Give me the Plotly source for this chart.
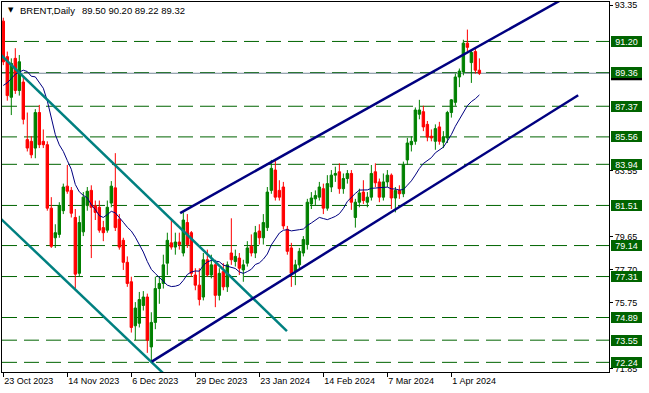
import plotly.graph_objects as go

# ---------------- data ----------------
tick_idx = [0, 16, 32, 48, 64, 80, 96, 112]
tick_text = ["23 Oct 2023", "14 Nov 2023", "6 Dec 2023", "29 Dec 2023",
             "23 Jan 2024", "14 Feb 2024", "7 Mar 2024", "1 Apr 2024"]

opens = [92.4, 90.3, 87.9, 90.2, 88.3, 88.8, 85.4, 85.3, 84.9, 87.0,
         85.3, 85.1, 81.35, 79.6, 79.8, 81.2, 82.65, 82.4, 80.8, 77.5,
         79.95, 81.5, 82.4, 81.5, 81.4, 80.2, 80.05, 81.65, 82.55, 80.7,
         79.45, 78.15, 77.0, 74.4, 74.55, 75.6, 76.1, 73.15, 74.6, 76.6,
         76.9, 78.1, 79.3, 79.05, 79.35, 78.7, 80.5, 79.9, 77.4, 76.8,
         76.1, 78.3, 77.4, 78.0, 76.2, 77.6, 76.7, 78.7, 78.2, 78.4,
         77.7, 78.1, 79.1, 78.7, 80.0, 79.6, 80.2, 82.4, 83.6, 82.4,
         82.6, 80.1, 79.0, 77.6, 78.0, 78.7, 79.2, 81.6, 81.9, 82.0,
         82.5, 81.35, 82.6, 83.3, 83.5, 82.5, 83.1, 83.4, 80.8, 81.7,
         82.3, 81.7, 82.0, 83.5, 82.9, 82.0, 82.9, 83.3, 81.95, 82.4,
         82.2, 84.2, 85.1, 85.3, 86.9, 87.05, 86.3, 85.6, 85.3, 86.15,
         85.25, 85.5, 87.0, 87.6, 89.1, 89.4, 91.1, 89.95, 90.6, 89.50]
highs = [92.6, 90.6, 90.2, 90.8, 90.4, 89.1, 87.0, 85.6, 87.2, 87.45,
         86.0, 85.3, 82.0, 80.4, 81.7, 82.8, 83.9, 82.6, 81.3, 80.9,
         82.3, 82.6, 82.7, 81.8, 81.8, 80.6, 81.8, 82.95, 84.6, 81.0,
         79.6, 78.5, 77.3, 75.8, 76.4, 76.45, 76.3, 75.2, 77.3, 77.3,
         78.6, 79.9, 80.65, 79.9, 79.9, 81.1, 81.0, 80.0, 77.8, 77.8,
         78.7, 78.9, 78.6, 78.3, 77.8, 78.1, 78.2, 80.75, 78.9, 78.7,
         78.3, 79.4, 79.8, 80.3, 80.4, 81.0, 82.6, 84.2, 84.2, 83.0,
         82.9, 80.3, 79.3, 78.3, 79.0, 79.7, 81.9, 82.3, 82.4, 82.9,
         82.8, 83.3, 83.6, 83.8, 84.0, 83.4, 83.6, 83.6, 81.9, 82.5,
         83.0, 82.3, 83.9, 84.0, 83.1, 83.4, 83.6, 83.4, 82.6, 82.7,
         84.1, 85.5, 85.6, 87.3, 87.75, 87.4, 86.5, 86.0, 86.3, 86.45,
         85.9, 87.1, 87.8, 89.3, 89.6, 91.3, 91.9, 90.7, 90.8, 90.20]
lows = [89.8, 87.7, 86.85, 88.1, 88.0, 86.3, 84.7, 84.3, 84.3, 84.9,
        84.9, 81.2, 79.0, 79.0, 79.6, 81.0, 82.2, 80.8, 76.6, 77.3,
        79.7, 81.2, 78.4, 80.65, 79.9, 79.4, 79.9, 81.4, 80.0, 78.9,
        77.7, 76.7, 74.0, 73.55, 74.3, 75.3, 72.8, 72.3, 74.2, 75.7,
        76.6, 77.4, 78.9, 78.6, 78.9, 78.5, 79.0, 77.3, 76.5, 75.6,
        75.9, 77.3, 77.2, 75.5, 75.9, 76.5, 76.4, 78.0, 77.9, 77.4,
        77.0, 77.9, 78.5, 78.4, 79.2, 79.2, 80.0, 82.2, 81.8, 81.8,
        80.1, 78.6, 76.7, 76.8, 77.8, 78.5, 78.9, 81.3, 81.5, 81.8,
        81.0, 81.2, 82.3, 82.9, 82.2, 82.2, 82.8, 81.25, 80.2, 81.4,
        81.6, 81.4, 81.8, 82.6, 81.7, 81.8, 82.6, 81.3, 81.1, 81.9,
        82.0, 83.9, 84.7, 85.1, 86.6, 85.9, 85.3, 85.3, 84.8, 85.1,
        84.9, 85.2, 86.7, 87.4, 88.5, 89.2, 90.6, 88.75, 89.3, 89.22]
closes = [90.0, 88.0, 89.9, 88.3, 90.0, 86.6, 84.9, 84.5, 87.0, 85.1,
          85.1, 81.35, 79.1, 79.9, 81.5, 82.6, 82.35, 81.05, 77.45, 80.5,
          82.0, 82.35, 81.4, 81.1, 80.05, 79.9, 81.4, 82.65, 80.2, 79.05,
          78.15, 76.9, 74.3, 75.45, 75.95, 76.1, 73.55, 74.6, 76.6, 76.9,
          78.0, 79.45, 79.05, 79.35, 79.2, 80.65, 79.2, 77.5, 76.8, 75.95,
          78.3, 77.4, 78.0, 76.2, 77.5, 76.7, 78.0, 78.3, 78.5, 77.8,
          78.0, 79.0, 78.7, 79.9, 79.6, 80.5, 82.3, 83.7, 82.0, 82.0,
          80.3, 78.8, 77.5, 78.0, 78.8, 79.5, 81.7, 81.95, 82.1, 82.6,
          81.35, 82.8, 83.3, 83.4, 82.5, 83.1, 83.4, 81.7, 81.7, 82.25,
          81.8, 82.0, 83.4, 82.85, 82.0, 82.9, 83.3, 81.95, 82.4, 82.2,
          83.9, 85.2, 85.3, 87.15, 87.15, 86.15, 85.55, 85.5, 86.05, 85.3,
          85.55, 87.0, 87.75, 89.1, 89.45, 91.1, 90.85, 90.55, 89.5, 89.32]
# closes before the first visible bar (feed the 14-bar average)
pre_closes = [85.8, 86.5, 84.6, 88.2, 85.1, 86.0, 88.4, 87.5, 89.4,
              90.2, 91.8, 93.1, 93.8]
ma_period = 14

levels = [91.20, 89.36, 87.37, 85.56, 83.94, 81.51, 79.14, 77.31, 74.89, 73.55, 72.24]
bid_price = 89.32
y_ticks = [93.35, 83.55, 79.65, 77.70, 75.75, 71.85]

# trend lines: (bar index, price) anchors
teal_upper_x, teal_upper_y = [-0.825, 70.9], [90.46, 74.09]
teal_lower_x, teal_lower_y = [-0.825, 42.9], [80.77, 70.94]
navy_upper_x, navy_upper_y = [44.2, 139.0], [81.06, 93.59]
navy_lower_x, navy_lower_y = [37.1, 143.7], [72.28, 88.02]

symbol_text = "BRENT,Daily"
ohlc_text = "89.50 90.20 89.22 89.32"

# ---------------- figure ----------------
idx = list(range(len(closes)))
allc = pre_closes + closes
npre = len(pre_closes)
ma = [sum(allc[i + npre - ma_period + 1:i + npre + 1]) / ma_period for i in idx]

FONT = "Liberation Sans, Arial, sans-serif"
GREEN_LVL = "#006400"

fig = go.Figure()
fig.add_trace(go.Candlestick(
    x=idx, open=opens, high=highs, low=lows, close=closes,
    increasing=dict(line=dict(color="#008000", width=1), fillcolor="#008000"),
    decreasing=dict(line=dict(color="#ff0000", width=1), fillcolor="#ff0000"),
    whiskerwidth=0, showlegend=False, hoverinfo="skip"))
fig.add_trace(go.Scatter(x=idx, y=ma, mode="lines",
                         line=dict(color="#000080", width=1), showlegend=False))
for xs, ys, col in [(teal_upper_x, teal_upper_y, "#008080"),
                    (teal_lower_x, teal_lower_y, "#008080"),
                    (navy_upper_x, navy_upper_y, "#000080"),
                    (navy_lower_x, navy_lower_y, "#000080")]:
    fig.add_trace(go.Scatter(x=xs, y=ys, mode="lines",
                             line=dict(color=col, width=2.5), showlegend=False))

shapes = []
for lv in levels:
    shapes.append(dict(type="line", xref="paper", x0=0, x1=1, yref="y", y0=lv, y1=lv,
                       line=dict(color=GREEN_LVL, width=1, dash="15px,7px"), layer="below"))
shapes.append(dict(type="line", xref="paper", x0=0, x1=1, yref="y", y0=bid_price, y1=bid_price,
                   line=dict(color="#778899", width=1), layer="below"))
# black bid-price tag mostly hidden behind the 89.36 tag
shapes.append(dict(type="rect", xref="paper", xsizemode="pixel", xanchor=1, x0=2, x1=33,
                   yref="y", ysizemode="pixel", yanchor=bid_price, y0=-7, y1=5,
                   fillcolor="#000000", line=dict(width=0), layer="above"))

annotations = []
for lv in levels:
    annotations.append(dict(xref="paper", x=1, xanchor="left", xshift=2, yref="y", y=lv,
                            text=f"{lv:.2f}", showarrow=False, bgcolor=GREEN_LVL,
                            font=dict(family=FONT, size=9, color="#ffffff"),
                            width=31, height=11, borderpad=0, borderwidth=0))
annotations.append(dict(xref="paper", yref="paper", x=(6 - 2) / 607, y=1 - (10.5 - 2) / 370,
                        xanchor="left", yanchor="middle", text="▼", showarrow=False,
                        font=dict(family="DejaVu Sans", size=7, color="#000000")))
annotations.append(dict(xref="paper", yref="paper", x=(18 - 2) / 607, y=1 - (11 - 2) / 370,
                        xanchor="left", yanchor="middle", text=symbol_text, showarrow=False,
                        font=dict(family=FONT, size=9.5, color="#000000")))
annotations.append(dict(xref="paper", yref="paper", x=(80 - 2) / 607, y=1 - (11 - 2) / 370,
                        xanchor="left", yanchor="middle", text=ohlc_text, showarrow=False,
                        font=dict(family=FONT, size=9.5, color="#000000")))

fig.update_layout(
    template="none",
    width=649, height=393, autosize=False,
    margin=dict(l=2, r=40, t=2, b=21, pad=0),
    paper_bgcolor="#ffffff", plot_bgcolor="#ffffff",
    showlegend=False, shapes=shapes, annotations=annotations,
    boxgap=0.4, boxgroupgap=0,
    font=dict(family=FONT, size=9, color="#000000"),
    xaxis=dict(range=[-0.325, 151.4], showgrid=False, zeroline=False, automargin=False,
               showline=True, linecolor="#000000", linewidth=1, mirror=True,
               ticks="outside", ticklen=4, tickcolor="#000000", tickwidth=1,
               tickvals=tick_idx, ticktext=tick_text, ticklabelposition="outside right",
               tickfont=dict(family=FONT, size=9, color="#000000"),
               rangeslider=dict(visible=False), fixedrange=True),
    yaxis=dict(range=[71.67, 93.53], side="right", showgrid=False, zeroline=False,
               automargin=False,
               showline=True, linecolor="#000000", linewidth=1, mirror=True,
               ticks="outside", ticklen=3, tickcolor="#000000", tickwidth=1,
               tickvals=y_ticks, ticktext=[f"{v:.2f}" for v in y_ticks],
               tickfont=dict(family=FONT, size=9, color="#000000"), fixedrange=True),
)

fig.write_html("out.html", config={"displayModeBar": False},
               post_script="document.body.style.margin='0';")
